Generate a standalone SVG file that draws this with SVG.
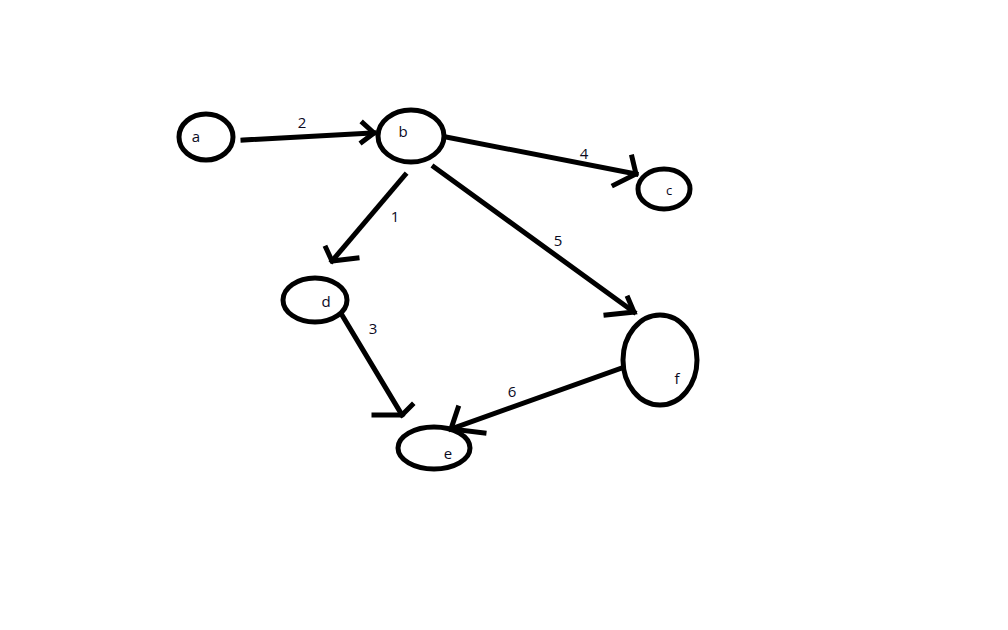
<svg xmlns="http://www.w3.org/2000/svg" width="1008" height="630" viewBox="0 0 1008 630">
<style>
.node{fill:none;stroke:#000;stroke-width:5}
.edge{fill:none;stroke:#000;stroke-width:5;stroke-linecap:square;stroke-linejoin:miter}
.lbl{font-family:"Open Sans","Noto Sans","Liberation Sans",sans-serif;font-size:15px;fill:#0a0a1e;text-anchor:middle}
</style>
<rect width="1008" height="630" fill="#fff"/>
<g id="connectors">
<g id="e-a-b"><line class="edge" x1="243" y1="140" x2="374" y2="133"/><polyline class="edge" points="363,123 374,133 362,142"/><text class="lbl" x="302" y="128">2</text></g>
<g id="e-b-c"><line class="edge" x1="446" y1="137" x2="636" y2="174"/><polyline class="edge" points="632,157 636,174 614,185"/><text class="lbl" x="584" y="159">4</text></g>
<g id="e-b-d"><line class="edge" x1="405" y1="175" x2="332" y2="261"/><polyline class="edge" points="326,248 332,261 357,258"/><text class="lbl" x="395" y="222">1</text></g>
<g id="e-b-f"><line class="edge" x1="434" y1="167" x2="634" y2="312"/><polyline class="edge" points="628,298 634,312 606,315"/><text class="lbl" x="558" y="246">5</text></g>
<g id="e-d-e"><line class="edge" x1="342" y1="315" x2="402" y2="415"/><polyline class="edge" points="374,415 402,415 412,405"/><text class="lbl" x="373" y="334">3</text></g>
<g id="e-f-e"><line class="edge" x1="622" y1="368" x2="451" y2="429"/><polyline class="edge" points="458,408 451,429 484,433"/><text class="lbl" x="512" y="397">6</text></g>
</g>
<g id="node-a"><ellipse class="node" cx="206" cy="137" rx="27" ry="23"/><text class="lbl" x="196" y="142">a</text></g>
<g id="node-b"><ellipse class="node" cx="411" cy="136" rx="33" ry="26"/><text class="lbl" x="403" y="137">b</text></g>
<g id="node-c"><ellipse class="node" cx="664" cy="189" rx="26" ry="20"/><text class="lbl" x="669" y="195" style="font-size:13px">c</text></g>
<g id="node-d"><ellipse class="node" cx="315" cy="300" rx="32" ry="22"/><text class="lbl" x="326" y="307">d</text></g>
<g id="node-e"><ellipse class="node" cx="434" cy="448" rx="36" ry="21"/><text class="lbl" x="448" y="459">e</text></g>
<g id="node-f"><ellipse class="node" cx="660" cy="360" rx="37" ry="45"/><text class="lbl" x="677" y="384">f</text></g>
</svg>
